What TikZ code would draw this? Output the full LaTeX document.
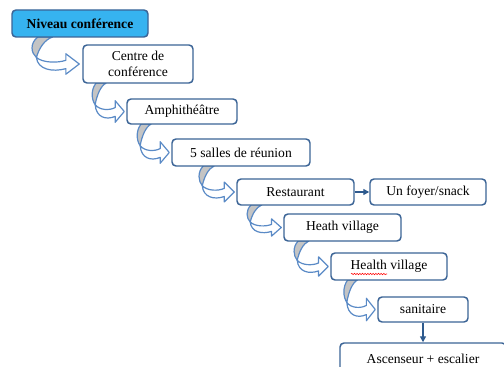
\documentclass[tikz,border=0pt]{standalone}
\usepackage{fontspec}
\setmainfont{Liberation Serif}
\usetikzlibrary{arrows.meta,calc,backgrounds,decorations.pathmorphing}
\definecolor{boxline}{HTML}{3B6496}
\definecolor{lvlfill}{HTML}{36B3F0}
\definecolor{bendline}{HTML}{5A8AC6}
\definecolor{bendgray}{HTML}{C4C4C4}
\definecolor{connline}{HTML}{2E5A8E}
\begin{document}
\begin{tikzpicture}[x=0.75pt,y=-0.75pt,
  box/.style={draw=boxline,line width=1.1pt,rounded corners=3pt,fill=white,inner sep=0pt,align=center,font=\fontsize{10.2}{12.5}\selectfont},
  bend/.pic={
    \filldraw[fill=bendgray,draw=bendline,line width=0.9pt,line join=round]
      (-31,-29) .. controls (-37,-22) and (-36,-12) .. (-32,-7)
      .. controls (-30,-17) and (-26,-26) .. (-20,-29) -- cycle;
    \filldraw[fill=white,draw=bendline,line width=0.9pt,line join=round]
      (-32,-7) .. controls (-31,6) and (-20,9) .. (-10,5) -- (-10,11) -- (0,0)
      -- (-10,-11) -- (-10,-4) .. controls (-16,-1) and (-27,-1) .. (-32,-7) -- cycle;
  },
  conn/.style={draw=connline,line width=1pt,-{Triangle[length=4.5pt,width=4.5pt]}}
]
\useasboundingbox (0,0) rectangle (504,367);
\clip (0,0) rectangle (504,367);

\node[box,fill=lvlfill,font=\fontsize{10.2}{12.5}\selectfont\bfseries,minimum width=136*0.75pt,minimum height=27*0.75pt] (b1) at (80,23.5) {Niveau conférence};
\node[box,minimum width=110*0.75pt,minimum height=38*0.75pt] (b2) at (138,64) {Centre de\\conférence};
\node[box,minimum width=110*0.75pt,minimum height=25*0.75pt] (b3) at (182,111.5) {Amphithéâtre};
\node[box,minimum width=138*0.75pt,minimum height=27*0.75pt] (b4) at (241,152.5) {5 salles de réunion};
\node[box,minimum width=117*0.75pt,minimum height=26*0.75pt] (b5) at (295.5,192) {Restaurant};
\node[box,minimum width=116*0.75pt,minimum height=26*0.75pt] (b6) at (428,192) {Un foyer/snack};
\node[box,minimum width=117*0.75pt,minimum height=27*0.75pt] (b7) at (342.5,227.5) {Heath village};
\node[box,minimum width=116*0.75pt,minimum height=27*0.75pt] (b8) at (389,266.5) {Health village};
\node[box,minimum width=90*0.75pt,minimum height=25*0.75pt] (b9) at (423,309.5) {sanitaire};
\node[box,minimum width=166*0.75pt,minimum height=32*0.75pt] (b10) at (423,359) {Ascenseur + escalier};

\begin{scope}[on background layer]
  \pic[xscale=1.34,yscale=0.93] at ($(b2.west)+(-3,0)$) {bend};
  \pic[xscale=0.91,yscale=0.98] at ($(b3.west)+(-2,0)$) {bend};
  \pic[xscale=0.91,yscale=0.98] at ($(b4.west)+(-2,0)$) {bend};
  \pic[xscale=1.0,yscale=0.90] at ($(b5.west)+(-2,0)$) {bend};
  \pic[xscale=0.97,yscale=0.78] at ($(b7.west)+(-2,0)$) {bend};
  \pic[xscale=0.97,yscale=0.88] at ($(b8.west)+(-2,0)$) {bend};
  \pic[xscale=0.89,yscale=1.02] at ($(b9.west)+(-2,0)$) {bend};
\end{scope}

\draw[conn] (b5) -- (b6);
\draw[conn] (b9) -- (b10);

\coordinate (sq1) at ($(b8.center)+(-38,7.5)$);
\coordinate (sq2) at ($(b8.center)+(-2,7.5)$);
\draw[red,line width=0.4pt,decorate,decoration={snake,amplitude=0.5pt,segment length=2pt}] (sq1) -- (sq2);
\end{tikzpicture}
\end{document}
